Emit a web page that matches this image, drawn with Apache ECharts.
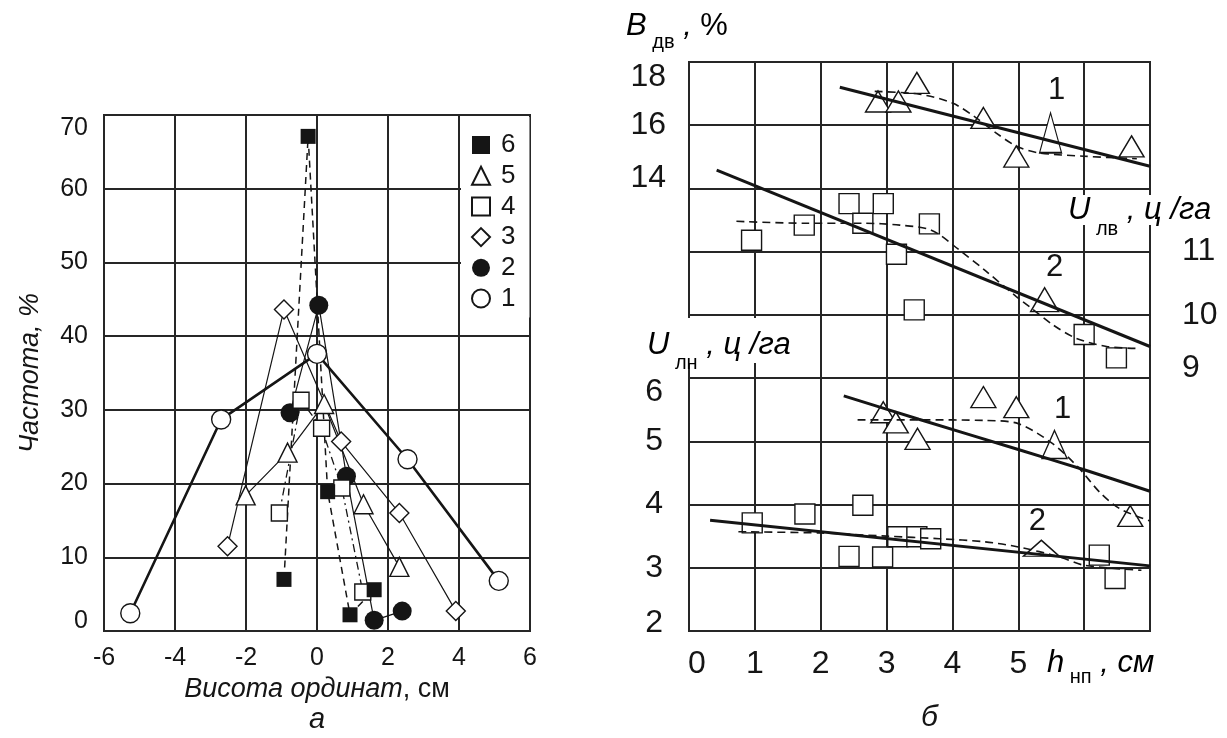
<!DOCTYPE html>
<html><head><meta charset="utf-8">
<script src="https://cdn.jsdelivr.net/npm/echarts@6/dist/echarts.min.js"></script>
<style>html,body{margin:0;padding:0;background:#fff}#c{width:1227px;height:738px}</style>
</head><body><div id="c"></div>
<script>
// ---- Left panel (а): frequency vs ordinate height ----
const freq1 = [[-5.26,2.4],[-2.70,28.7],[0.00,37.6],[2.55,23.3],[5.12,6.8]];
const freq2 = [[-0.76,29.6],[0.05,44.2],[0.83,21.0],[1.61,1.45],[2.40,2.7]];
const freq3 = [[-2.52,11.5],[-0.93,43.6],[0.68,25.7],[2.32,16.0],[3.91,2.7]];
const freq4 = [[-1.06,16.0],[-0.45,31.3],[0.13,27.5],[0.70,19.4],[1.29,5.3]];
const freq5 = [[-2.01,18.4],[-0.83,24.2],[0.20,30.8],[1.31,17.2],[2.32,8.7]];
const freq6 = [[-0.93,7.0],[-0.25,67.1],[0.30,18.9],[0.93,2.2],[1.61,5.6]];
const legendNames = ['6','5','4','3','2','1'];

// ---- Right panel (б) ----
// B_дв, % (curve 1, upper)
const bdvTri = [[2.87,16.75],[3.18,16.75],[3.46,17.34],[4.47,16.23],[4.97,15.01],[6.72,15.33]];
const bdvTriOdd = [[5.49,15.76]];
const bdvTrend = [[2.29,17.2],[7.0,14.70]];
const bdvDash = [[2.82,17.07],[3.5,16.98],[4.0,16.7],[4.35,16.25],[4.66,15.76],[4.97,15.34],[5.3,15.13],[6.0,15.02],[6.8,14.94]];
// U_лв, ц/га (curve 2, upper)
const ulvSq = [[0.95,11.18],[1.75,11.42],[2.43,11.76],[2.64,11.45],[2.95,11.76],[3.15,10.96],[3.42,10.08],[3.65,11.44],[6.0,9.69],[6.49,9.32]];
const ulvOdd = [[5.40,10.24]];
const ulvTrend = [[0.42,12.29],[7.0,9.5]];
const ulvDash = [[0.72,11.48],[1.75,11.45],[2.64,11.45],[3.2,11.42],[3.68,11.34],[4.1,11.03],[4.5,10.7],[4.97,10.29],[5.17,10.13],[5.53,9.84],[5.88,9.63],[6.34,9.5],[6.8,9.47]];
// U_лн, ц/га (curves 1 and 2, lower)
const ulnTri = [[2.95,5.46],[3.14,5.3],[3.47,5.04],[4.47,5.7],[4.97,5.54],[6.7,3.82]];
const ulnTriOdd = [[5.55,4.95]];
const ulnTriTrend = [[2.35,5.72],[3.49,5.35],[5.0,4.87],[6.0,4.55],[7.0,4.21]];
const ulnTriDash = [[2.56,5.34],[3.5,5.34],[4.5,5.33],[5.0,5.28],[5.5,4.98],[5.9,4.6],[6.25,4.18],[6.55,3.93],[7.0,3.74]];
const ulnSq = [[0.96,3.71],[1.76,3.85],[2.64,3.99],[2.43,3.18],[2.94,3.17],[3.17,3.49],[3.46,3.49],[3.67,3.46],[6.23,3.2],[6.47,2.83]];
const ulnSqOdd = [[5.35,3.31]];
const ulnSqTrend = [[0.32,3.75],[7.0,3.03]];
const ulnSqDash = [[0.75,3.57],[2.0,3.55],[3.0,3.5],[3.8,3.46],[4.5,3.41],[5.0,3.33],[5.63,3.17],[6.0,3.04],[6.87,2.96]];

const xTicksRight = [0,1,2,3,4,5];
const bdvTicks = [14,16,18];
const ulnTicks = [2,3,4,5,6];
const ulvTicks = [9,10,11];

const FF = "'Liberation Sans', Arial, sans-serif";
const INK = '#151515';
const GRID = '#262626';

const chart = echarts.init(document.getElementById('c'), null, {renderer:'canvas'});

function lineS(name, data, xi, yi, width, type, smooth, z){
  return {type:'line', name:name, data:data, xAxisIndex:xi, yAxisIndex:yi, showSymbol:false, symbol:'none',
    smooth:smooth||false, z:z||2, silent:true,
    lineStyle:{color:INK, width:width, type:type||'solid'}};
}
function scat(name, data, xi, yi, symbol, size, filled, z){
  return {type:'scatter', name:name, data:data, xAxisIndex:xi, yAxisIndex:yi, symbol:symbol, symbolSize:size, z:z||3,
    itemStyle:{color: filled ? INK : '#fff', borderColor:INK, borderWidth: filled ? 0 : 1.4, opacity:1}};
}
function odd(name, data, yi, size, lbl, dist, off){
  const s = scat(name, data, 1, yi, 'triangle', size, false, 3);
  s.label = {show:true, position:'top', distance:dist, offset:off, formatter:lbl, fontSize:31, color:INK, fontFamily:FF};
  return s;
}
function rich(dn, up, fs){
  return {
    dn:{fontSize:fs, fontFamily:FF, color:INK, padding:[2*dn,0,0,0]},
    up:{fontSize:fs, fontFamily:FF, color:INK, padding:[0,0,2*up,0]}
  };
}

const subTok = (p)=>({fontSize:20, fontFamily:FF, color:INK, lineHeight:16, verticalAlign:'top', padding:[p,0,0,0]});
const bigTok = {fontSize:31, fontStyle:'italic', fontFamily:FF, color:INK, lineHeight:30, verticalAlign:'top'};
const bigUp = {fontSize:31, fontFamily:FF, color:INK, lineHeight:30, verticalAlign:'top'};

const option = {
  animation:false,
  backgroundColor:'#fff',
  grid:[
    {left:104, top:115, width:426, height:516, show:true, borderColor:GRID, borderWidth:2, backgroundColor:'transparent'},
    {left:689, top:62, width:461, height:569, show:true, borderColor:GRID, borderWidth:2, backgroundColor:'transparent'}
  ],
  xAxis:[
    {gridIndex:0, type:'value', min:-6, max:6, interval:2,
     axisLine:{show:false}, axisTick:{show:false},
     splitLine:{show:true, lineStyle:{color:GRID, width:2}},
     axisLabel:{fontSize:25, color:INK, fontFamily:FF, margin:15},
     name:'{i|Висота ординат}{n|, см}', nameLocation:'middle', nameGap:45,
     nameTextStyle:{rich:{i:{fontSize:27, fontStyle:'italic', fontFamily:FF, color:INK}, n:{fontSize:27, fontFamily:FF, color:INK}}}},
    {gridIndex:1, type:'value', min:0, max:7, interval:1,
     axisLine:{show:false}, axisTick:{show:false},
     splitLine:{show:true, lineStyle:{color:GRID, width:2}},
     axisLabel:{fontSize:32, color:INK, fontFamily:FF, margin:17,
       formatter:function(v){ if(v===0) return '{r|0}'; return xTicksRight.indexOf(v)>=0 ? String(v) : ''; },
       rich:{r:{fontSize:32, fontFamily:FF, color:INK, padding:[0,0,0,16]}}}}
  ],
  yAxis:[
    {gridIndex:0, type:'value', min:0, max:70, interval:10,
     axisLine:{show:false}, axisTick:{show:false},
     splitLine:{show:true, lineStyle:{color:GRID, width:2}},
     axisLabel:{fontSize:25, color:INK, fontFamily:FF, margin:16,
       formatter:function(v){ if(v===70) return '{dn|70}'; if(v===0) return '{up|0}'; return String(v); },
       rich:rich(13,10,25)},
     name:'Частота, %', nameLocation:'middle', nameGap:60, nameRotate:90,
     nameTextStyle:{fontSize:27, fontStyle:'italic', fontFamily:FF, color:INK}},
    {gridIndex:1, type:'value', min:0, max:18, interval:2, position:'left',
     axisLine:{show:false}, axisTick:{show:false},
     splitLine:{show:true, lineStyle:{color:GRID, width:2}},
     axisLabel:{fontSize:32, color:INK, fontFamily:FF, margin:23,
       formatter:function(v){ if(bdvTicks.indexOf(v)<0) return ''; if(v===18) return '{dn|18}'; if(v===14) return '{up|14}'; return String(v); },
       rich:rich(15,10,32)}},
    {gridIndex:1, type:'value', min:2, max:11, interval:1, position:'left',
     axisLine:{show:false}, axisTick:{show:false}, splitLine:{show:false},
     axisLabel:{fontSize:32, color:INK, fontFamily:FF, margin:26,
       formatter:function(v){ if(ulnTicks.indexOf(v)<0) return ''; if(v===6) return '{dn|6}'; if(v===2) return '{up|2}'; return String(v); },
       rich:rich(14,8,32)}},
    {gridIndex:1, type:'value', min:5, max:14, interval:1, position:'right',
     axisLine:{show:false}, axisTick:{show:false}, splitLine:{show:false},
     axisLabel:{fontSize:32, color:INK, fontFamily:FF, margin:32,
       formatter:function(v){ if(ulvTicks.indexOf(v)<0) return ''; if(v===9) return '{up|9}'; return String(v); },
       rich:rich(12,10,32)}}
  ],
  legend:{
    data:legendNames, orient:'vertical', left:461, top:117,
    itemWidth:18, itemHeight:18, itemGap:4.7,
    backgroundColor:'#fff', padding:[15,14,6,10],
    textStyle:{fontSize:26, color:INK, fontFamily:FF, lineHeight:18, padding:[0,0,0,6]},
    selectedMode:false
  },
  series:[
    // left panel lines
    lineS('l1', freq1, 0, 0, 2.6, 'solid'),
    lineS('l2', freq2, 0, 0, 1.2, 'solid'),
    lineS('l3', freq3, 0, 0, 1.2, 'solid'),
    lineS('l4', freq4, 0, 0, 1.3, [8,4,2,4]),
    lineS('l5', freq5, 0, 0, 1.2, 'solid'),
    lineS('l6', freq6, 0, 0, 1.5, [7,5]),
    // left panel markers
    scat('1', freq1, 0, 0, 'circle', 19, false),
    scat('2', freq2, 0, 0, 'circle', 19, true),
    scat('3', freq3, 0, 0, 'diamond', 19, false),
    scat('4', freq4, 0, 0, 'rect', 16, false),
    scat('5', freq5, 0, 0, 'triangle', 19, false),
    scat('6', freq6, 0, 0, 'rect', 15, true),
    // right panel markers
    scat('bdvTri', bdvTri, 1, 1, 'triangle', [25,21], false, 3),
    odd('bdvOdd', bdvTriOdd, 1, [22,40], '1', 6, [6,0]),
    scat('ulvSq', ulvSq, 1, 3, 'rect', 20, false, 3),
    odd('ulvOdd', ulvOdd, 3, [28,24], '2', 4, [10,0]),
    scat('ulnTri', ulnTri, 1, 2, 'triangle', [25,21], false, 3),
    odd('ulnTriOdd', ulnTriOdd, 2, [25,28], '1', 5, [8,0]),
    scat('ulnSq', ulnSq, 1, 2, 'rect', 20, false, 3),
    odd('ulnSqOdd', ulnSqOdd, 2, [36,16], '2', 3, [-4,0]),
    // right panel lines (on top)
    lineS('bdvTrend', bdvTrend, 1, 1, 3, 'solid', false, 5),
    lineS('bdvDash', bdvDash, 1, 1, 1.6, [8,5], 0.3, 5),
    lineS('ulvTrend', ulvTrend, 1, 3, 3, 'solid', false, 5),
    lineS('ulvDash', ulvDash, 1, 3, 1.6, [8,5], 0.3, 5),
    lineS('ulnTriTrend', ulnTriTrend, 1, 2, 3, 'solid', 0.3, 5),
    lineS('ulnTriDash', ulnTriDash, 1, 2, 1.6, [8,5], 0.3, 5),
    lineS('ulnSqTrend', ulnSqTrend, 1, 2, 3, 'solid', false, 5),
    lineS('ulnSqDash', ulnSqDash, 1, 2, 1.6, [8,5], 0.3, 5)
  ],
  graphic:[
    {type:'text', z:100, left:626, top:11, style:{text:'{b|B}{s| дв}{t| , }{p|%}', rich:{b:bigTok, s:subTok(21), t:bigTok, p:bigUp}}},
    {type:'text', z:100, left:1064, top:195, style:{text:'{b|U}{s| лв}{t| , ц /га}', backgroundColor:'#fff', padding:[0,4,0,4], rich:{b:bigTok, s:subTok(24), t:bigTok}}},
    {type:'text', z:100, left:641, top:318, style:{text:'{b|U}{s| лн}{t| , ц /га}', backgroundColor:'#fff', padding:[12,4,3,6], rich:{b:bigTok, s:subTok(23), t:bigTok}}},
    {type:'text', z:100, left:1047, top:648, style:{text:'{b|h}{s| нп}{t| , см}', rich:{b:bigTok, s:subTok(19), t:bigTok}}},
    {type:'text', z:100, left:921, top:703, style:{text:'б', font:'italic 30px '+FF, fill:INK}},
    {type:'text', z:100, left:309, top:705, style:{text:'а', font:'italic 29px '+FF, fill:INK}}
  ]
};
chart.setOption(option);
</script>
</body></html>
